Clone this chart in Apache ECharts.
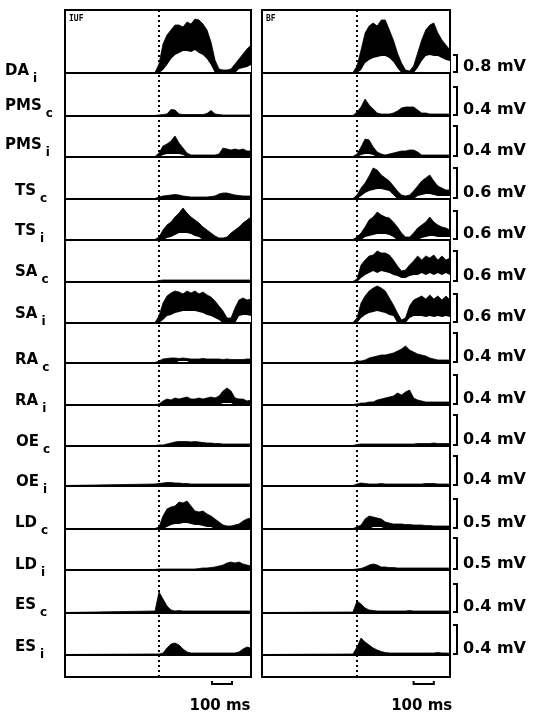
<!DOCTYPE html>
<html>
<head>
<meta charset="utf-8">
<script src="https://cdn.jsdelivr.net/npm/echarts@6/dist/echarts.min.js"></script>
<style>
html, body { margin: 0; padding: 0; background: #fff; }
#main { width: 533px; height: 714px; }
</style>
</head>
<body>
<div id="main"></div>
<script>
// time in ms, 0 = movement onset (dotted line); record starts at -470
var times = [-470, -20, 0, 20, 40, 60, 80, 100, 120, 140, 160, 180, 200, 220, 240, 260, 280, 300, 320, 340, 360, 380, 400, 420, 440, 460];

// rows, top to bottom
var muscleNames = ['DA', 'PMS', 'PMS', 'TS', 'TS', 'SA', 'SA', 'RA', 'RA', 'OE', 'OE', 'LD', 'LD', 'ES', 'ES'];
var muscleSides = ['i', 'c', 'i', 'c', 'i', 'c', 'i', 'c', 'i', 'c', 'i', 'c', 'i', 'c', 'i'];
var calibText = ['0.8 mV', '0.4 mV', '0.4 mV', '0.6 mV', '0.6 mV', '0.6 mV', '0.6 mV', '0.4 mV', '0.4 mV', '0.4 mV', '0.4 mV', '0.5 mV', '0.5 mV', '0.4 mV', '0.4 mV'];
// height of each calibration bar, same amplitude units as the traces
var calibAmp = [18, 29, 31, 31, 29, 31, 29, 30, 30, 31, 30, 30, 32, 29, 30];
var panelNames = ['IUF', 'BF'];
var scaleBarStart = [265, 280];
var scaleBarLen = 100;

// rectified EMG envelopes: upper edge of the black band, and (where hollow) its lower edge
// ---- IUF ----
var iufDAi    = [0.5,0.5, 9,29,38,43,48,48,46,51,49,54, 53,49,43,31,13,4,3,3,4,9, 14,19,24,28];
var iufDAiLo  = [0,0, 0,3,8,14,18,20,22,22,21,23, 20,18,14,8,0,0,0,0,0,0, 4,5,6,8];
var iufPMSc   = [0.5,0.5, 1,1.5,2,6.5,6,2,1.5,1.5,1.5,1.5, 1.5,1.5,2.5,5.5,2,1.5,1,1,1,1, 1,1,1,1];
var iufPMSi   = [0.5,0.5, 4,11,13,16,21,14,9,4,2,2, 2,2,2,2,2,3,9,8,7,8, 7,8,6,6];
var iufPMSiLo = [0,0, 0,2,3,3,3,3,2,0,0,0, 0,0,0,0,0,0,0,0,0,0, 0,0,0,0];
var iufTSc    = [0.5,0.5, 2,3,3.5,4,4.5,4,3,2.5,2,2, 2,2,2,2.5,3,5,6,6,5,4, 3.5,3,3,3];
var iufTSi    = [0.5,0.5, 3,10,15,18,23,27,32,27,23,20, 17,13,10,7,4,2,2,3,7,10, 13,17,20,23];
var iufTSiLo  = [0,0, 0,0,2,3,5,7,7,7,6,4, 3,0,0,0,0,0,0,0,0,0, 1,1,1,1];
var iufSAc    = [0.5,0.5, 1.5,2,2,2,2,2,2,2,2,2, 2,2,2,2,2,2,2,2,2,2, 2,2,2,2];
var iufSAi    = [0.5,0.5, 7,20,27,30,32,31,29,32,30,32, 29,31,28,26,22,17,12,5,5,15, 23,25,23,24];
var iufSAiLo  = [0,0, 0,3,7,8,10,11,12,12,12,12, 11,10,8,7,5,3,0,0,0,0, 7,8,8,7];
var iufRAc    = [0.5,0.5, 2,4,4.5,5,5,4.5,5,4.5,4,4, 4,4.5,4,4,4,4,3.5,4,3.5,3.5, 3.5,3.5,4,4];
var iufRAcLo  = [0,0, 0,0,0,0,0,2,2,2,0,0, 0,0,0,0,0,0,0,0,0,0, 0,0,0,0];
var iufRAi    = [0.5,0.5, 1,4,6,5,7,6,7,8,6,6, 7,6,7,8,7,9,14,17,14,7, 6,6,4,5];
var iufRAiLo  = [0,0, 0,0,0,0,0,0,0,0,0,0, 0,0,0,0,0,0,2,2,2,0, 0,0,0,0];
var iufOEc    = [0.5,0.5, 1,1,2,3,4,4.5,4.5,4.5,4,4.5, 4,3.5,3,3,2.5,2.5,2,2,2,2, 2,2,2,2];
var iufOEi    = [0.5,2, 2.5,3,3.5,3.5,3,3,2.5,2.5,2,2, 2,2,2,2,2,2,2,2,2,2, 2,2,2,2];
var iufLDc    = [0.5,0.5, 2,13,20,22,23,27,26,28,23,18, 17,18,15,13,10,7,4,3,3,4, 5,8,10,11];
var iufLDcLo  = [0,0, 0,0,2,4,5,5,6,6,5,4, 4,3,2,2,0,0,0,0,0,0, 0,0,0,0];
var iufLDi    = [0.5,0.5, 1,1,1,1,1,1,1,1,1,1, 1.5,2,2,2.5,3,4,5,7,8,7, 8,6,5,4];
var iufESc    = [0.5,2, 21,14,7,3,2,2.5,2,2,2,2, 2,2,2,2,2,2,2,2,2,2, 2,2,2,2];
var iufESi    = [0.5,1, 1,2,7,11,12,10,6,3,2,2, 2,2,2,2,2,2,2,2,2,2, 3,6,8,7];

// ---- BF ----
var bfDAi    = [0.5,0.5, 7,23,40,47,50,47,53,53,43,33, 20,10,3,2,7,20,33,43,48,50, 40,33,28,23];
var bfDAiLo  = [0,0, 0,3,10,13,15,16,17,17,15,11, 5,0,0,0,0,5,12,17,18,17, 17,15,13,12];
var bfPMSc   = [0.5,0.5, 4,9,17,11,7,3,2,2,2,3, 5,8,9,9,9,6,3,3,2,2, 2,2,2,2];
var bfPMSi   = [0.5,0.5, 3,10,18,17,10,5,3,2,3,4, 5,6,6,7,7,5,2,2,2,2, 2,2,2,2];
var bfPMSiLo = [0,0, 0,2,3,3,2,0,0,0,0,0, 0,0,0,0,0,0,0,0,0,0, 0,0,0,0];
var bfTSc    = [0.5,0.5, 4,11,16,23,31,29,24,21,18,13, 8,4,3,4,8,13,18,21,24,18, 13,11,9,9];
var bfTScLo  = [0,0, 0,3,6,8,9,10,10,9,8,4, 0,0,0,0,0,3,4,5,5,4, 3,3,3,3];
var bfTSi    = [0.5,0.5, 3,7,13,20,23,28,25,23,22,18, 13,7,3,3,7,12,15,18,23,18, 15,13,12,10];
var bfTSiLo  = [0,0, 0,0,3,4,5,6,6,6,5,3, 0,0,0,0,0,0,2,3,4,4, 3,3,3,3];
var bfSAc    = [0.5,0.5, 3,17,22,26,27,31,29,29,27,22, 16,11,12,17,21,26,22,26,24,27, 22,26,22,24];
var bfSAcLo  = [0,0, 0,4,7,9,11,9,11,10,9,7, 6,4,4,6,7,7,9,7,9,7, 9,7,9,7];
var bfSAi    = [0.5,0.5, 5,20,27,32,35,37,35,32,25,18, 10,3,5,17,23,25,27,24,28,24, 27,23,27,23];
var bfSAiLo  = [0,0, 0,5,8,10,11,12,11,10,8,7, 0,0,0,5,7,7,7,6,7,6, 7,6,7,6];
var bfRAc    = [0.5,0.5, 2,2,3,5,6,7,8,8,9,10, 12,14,17,13,11,9,8,7,5,4, 3,3,3,3];
var bfRAi    = [0.5,0.5, 1,2,2,3,3,5,6,7,8,9, 12,10,13,15,7,5,4,3,3,3, 3,3,3,3];
var bfOEc    = [0.5,0.5, 1.5,2,2,2,2,2,2,2,2,2, 2,2,2,2,2,2.5,2.5,2.5,2.5,3, 2.5,2.5,2.5,2.5];
var bfOEi    = [0.5,0.5, 2,3,2.5,2,2,2,2.5,2,2,2, 2,2,2,2,2,2,2,2.5,2.5,2.5, 2,2,2,2];
var bfLDc    = [0.5,0.5, 2,4,10,13,12,11,10,7,6,5, 5,5,4.5,4.5,4,4,4,3.5,3.5,3, 3,3,3,3];
var bfLDcLo  = [0,0, 0,0,0,0,2,2,2,0,0,0, 0,0,0,0,0,0,0,0,0,0, 0,0,0,0];
var bfLDi    = [0.5,0.5, 1,1.5,3,5,6,5,3,3,2.5,2.5, 2,2,2,2,2,2,2,2,2,2, 2,2,2,2];
var bfESc    = [0.5,1, 12,9,5,3,2.5,2,2,2,2,2, 2,2,2,2.5,2,2,2,2,2,2, 2,2,2,2];
var bfESi    = [0.5,1, 8,17,13,10,7,5,3.5,2.5,2,2, 2,2,2,2,2,2,2,2,2,2, 2.5,2,2,2];

var iufHi = [iufDAi, iufPMSc, iufPMSi, iufTSc, iufTSi, iufSAc, iufSAi, iufRAc, iufRAi, iufOEc, iufOEi, iufLDc, iufLDi, iufESc, iufESi];
var iufLo = [iufDAiLo, null, iufPMSiLo, null, iufTSiLo, null, iufSAiLo, iufRAcLo, iufRAiLo, null, null, iufLDcLo, null, null, null];
var bfHi = [bfDAi, bfPMSc, bfPMSi, bfTSc, bfTSi, bfSAc, bfSAi, bfRAc, bfRAi, bfOEc, bfOEi, bfLDc, bfLDi, bfESc, bfESi];
var bfLo = [bfDAiLo, null, bfPMSiLo, bfTScLo, bfTSiLo, bfSAcLo, bfSAiLo, null, null, null, null, bfLDcLo, null, null, null];

/*********************** layout ***********************/
var FONT = '"DejaVu Sans", "Liberation Sans", sans-serif';
var FRAME_TOP = 10, FRAME_BOTTOM = 677;
var baselines = [73, 116, 157, 199, 240, 282, 323, 363, 405, 446, 486, 529, 570, 613, 655];
var panelLeft = [65, 262];
var panelWidth = [186, 188];
var labelX = [5, 5, 5, 15, 15, 15, 15, 15, 15, 16, 16, 15, 15, 15, 15];
var labelY = [71, 106, 145, 191, 231, 272, 314, 360, 401, 442, 482, 523, 565, 605, 647];
var T_MIN = times[0], T_MAX = times[times.length - 1];

var chart = echarts.init(document.getElementById('main'));
var option = {
    animation: false,
    backgroundColor: '#fff',
    grid: [],
    xAxis: [],
    yAxis: [],
    series: []
};

// panel frames with the dotted onset line
for (var p = 0; p < 2; p++) {
    option.grid.push({
        left: panelLeft[p], top: FRAME_TOP, width: panelWidth[p], height: FRAME_BOTTOM - FRAME_TOP,
        show: true, borderColor: '#000', borderWidth: 2, backgroundColor: 'transparent'
    });
    option.xAxis.push({ type: 'value', gridIndex: p, min: T_MIN, max: T_MAX, show: false });
    option.yAxis.push({ type: 'value', gridIndex: p, min: 0, max: 1, show: false });
    option.series.push({
        type: 'line', xAxisIndex: p, yAxisIndex: p, silent: true, symbol: 'none', z: 1,
        data: [[0, 0], [0, 1]],
        lineStyle: { color: '#000', width: 2, type: [2, 3] }
    });
}

var panels = [{ hi: iufHi, lo: iufLo }, { hi: bfHi, lo: bfLo }];
var rowGrid = [[], []];
for (var p = 0; p < 2; p++) {
    for (var r = 0; r < muscleNames.length; r++) {
        var g = option.grid.length;
        rowGrid[p].push(g);
        var rowTop = r === 0 ? FRAME_TOP : baselines[r - 1];
        var rowH = baselines[r] - rowTop;
        option.grid.push({ left: panelLeft[p], top: rowTop, width: panelWidth[p], height: rowH });
        // baseline drawn above the traces so the white hollows keep a thin black floor
        option.xAxis.push({
            type: 'value', gridIndex: g, min: T_MIN, max: T_MAX, z: 5,
            axisLine: { show: true, onZero: false, lineStyle: { color: '#000', width: 2 } },
            axisTick: { show: false }, axisLabel: { show: false }, splitLine: { show: false }
        });
        option.yAxis.push({ type: 'value', gridIndex: g, min: 0, max: rowH, show: false });

        var hi = panels[p].hi[r];
        var lo = panels[p].lo[r];
        option.series.push({
            type: 'line', xAxisIndex: g, yAxisIndex: g, silent: true, symbol: 'none', z: 2,
            data: times.map(function (t, i) { return [t, hi[i]]; }),
            lineStyle: { color: '#000', width: 0.8 },
            areaStyle: { color: '#000', opacity: 1 }
        });
        if (lo) {
            option.series.push({
                type: 'line', xAxisIndex: g, yAxisIndex: g, silent: true, symbol: 'none', z: 3,
                data: times.map(function (t, i) { return [t, lo[i]]; }),
                lineStyle: { opacity: 0 },
                areaStyle: { color: '#fff', opacity: 1 }
            });
        }
    }
}
chart.setOption(option);

/*********************** labels, calibration bars ***********************/
var measureCtx = document.createElement('canvas').getContext('2d');
function textWidth(txt, font) {
    measureCtx.font = font;
    return measureCtx.measureText(txt).width;
}

var graphic = [];
var mainFont = 'bold 15px ' + FONT;
var subFont = 'bold 12px ' + FONT;
var calibFont = 'bold 16px ' + FONT;
for (var r = 0; r < muscleNames.length; r++) {
    var w = textWidth(muscleNames[r], mainFont);
    graphic.push({
        type: 'text', silent: true,
        style: { text: muscleNames[r], x: labelX[r], y: labelY[r], font: mainFont, fill: '#000', align: 'left', verticalAlign: 'middle' }
    });
    graphic.push({
        type: 'text', silent: true,
        style: { text: muscleSides[r], x: labelX[r] + w + 4, y: labelY[r] + 8, font: subFont, fill: '#000', align: 'left', verticalAlign: 'middle' }
    });

    // vertical calibration bracket at the right of the BF panel
    var g = rowGrid[1][r];
    var pBase = chart.convertToPixel({ gridIndex: g }, [T_MAX, 0]);
    var pTop = chart.convertToPixel({ gridIndex: g }, [T_MAX, calibAmp[r]]);
    var bx = pBase[0] + 7;
    graphic.push({
        type: 'polyline', silent: true,
        shape: { points: [[bx - 4, pTop[1]], [bx, pTop[1]], [bx, pBase[1] - 1], [bx - 4, pBase[1] - 1]] },
        style: { stroke: '#000', lineWidth: 2, fill: null }
    });
    graphic.push({
        type: 'text', silent: true,
        style: { text: calibText[r], x: bx + 6, y: pBase[1] - 6, font: calibFont, fill: '#000', align: 'left', verticalAlign: 'middle' }
    });
}

for (var p = 0; p < 2; p++) {
    // panel name
    var corner = chart.convertToPixel({ gridIndex: p }, [T_MIN, 1]);
    graphic.push({
        type: 'text', silent: true,
        style: { text: panelNames[p], x: corner[0] + 4, y: corner[1] + 9, font: 'bold 8px "DejaVu Sans Mono", monospace', fill: '#000', align: 'left', verticalAlign: 'middle' }
    });
    // 100 ms time bar under the panel
    var a = chart.convertToPixel({ gridIndex: p }, [scaleBarStart[p], 0]);
    var b = chart.convertToPixel({ gridIndex: p }, [scaleBarStart[p] + scaleBarLen, 0]);
    var yb = a[1] + 7;
    graphic.push({
        type: 'polyline', silent: true,
        shape: { points: [[a[0], yb - 3], [a[0], yb], [b[0], yb], [b[0], yb - 3]] },
        style: { stroke: '#000', lineWidth: 2, fill: null }
    });
    graphic.push({
        type: 'text', silent: true,
        style: { text: scaleBarLen + ' ms', x: (a[0] + b[0]) / 2 - 2, y: a[1] + 29, font: mainFont, fill: '#000', align: 'center', verticalAlign: 'middle' }
    });
}
chart.setOption({ graphic: graphic });

window.addEventListener('resize', function () {
    chart.resize();
});
</script>
</body>
</html>
